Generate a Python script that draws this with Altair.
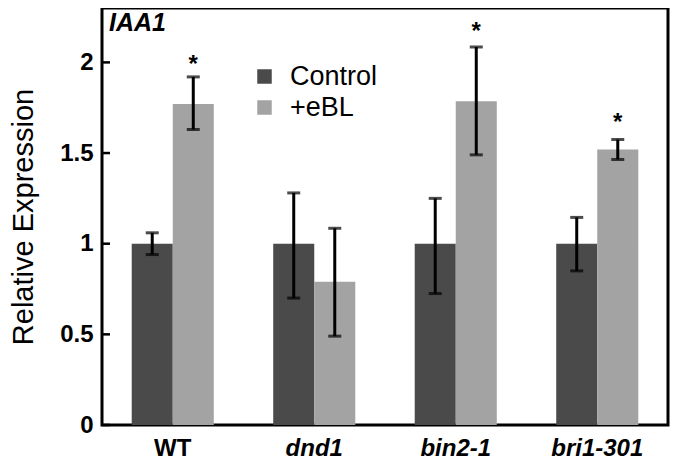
import altair as alt
import pandas as pd

genes = ["WT", "dnd1", "bin2-1", "bri1-301"]
treatments = ["Control", "+eBL"]
control_mean = [1.0, 1.0, 1.0, 1.0]
control_lo = [0.94, 0.70, 0.725, 0.85]
control_hi = [1.06, 1.28, 1.25, 1.145]
ebl_mean = [1.77, 0.79, 1.785, 1.52]
ebl_lo = [1.63, 0.49, 1.49, 1.465]
ebl_hi = [1.92, 1.085, 2.085, 1.575]
star_genes = ["WT", "bin2-1", "bri1-301"]
star_y = [2.02, 2.2, 1.7]
y_ticks = [0, 0.5, 1, 1.5, 2]

rows = []
for i, g in enumerate(genes):
    rows.append({"gene": g, "treatment": "Control", "mean": control_mean[i], "lo": control_lo[i], "hi": control_hi[i]})
    rows.append({"gene": g, "treatment": "+eBL", "mean": ebl_mean[i], "lo": ebl_lo[i], "hi": ebl_hi[i]})
df = pd.DataFrame(rows)
stars = pd.DataFrame({"gene": star_genes, "treatment": ["+eBL"] * len(star_genes), "y": star_y, "s": ["*"] * len(star_genes)})
ticks = pd.DataFrame({"v": y_ticks})

FONT = "Liberation Sans"
ydom = [0, 2.3]

x_enc = alt.X("gene:N", sort=genes,
              scale=alt.Scale(paddingInner=0.42, paddingOuter=0.21),
              axis=alt.Axis(title=None, ticks=False, domain=False, labelAngle=0,
                            labelFont=FONT, labelFontSize=24, labelFontWeight="bold",
                            labelColor="black", labelPadding=11,
                            labelFontStyle={"condition": {"test": "datum.value == 'WT'", "value": "normal"}, "value": "italic"}))
xo_enc = alt.XOffset("treatment:N", sort=treatments, scale=alt.Scale(paddingInner=0, paddingOuter=0))

base = alt.Chart(df)

bars = base.mark_bar().encode(
    x=x_enc,
    xOffset=xo_enc,
    y=alt.Y("mean:Q", scale=alt.Scale(domain=ydom, nice=False, zero=True),
            axis=alt.Axis(values=y_ticks, format="~g", ticks=False, domain=False, grid=False,
                          labelFont=FONT, labelFontSize=24, labelFontWeight="bold",
                          labelColor="black", labelPadding=9,
                          title="Relative Expression", titleFont=FONT, titleFontSize=29,
                          titleFontWeight="normal", titleColor="black", titlePadding=21)),
    color=alt.Color("treatment:N", sort=treatments,
                    scale=alt.Scale(domain=treatments, range=["#4a4a4a", "#a3a3a3"]),
                    legend=alt.Legend(title=None, orient="none", legendX=149, legendY=55,
                                      symbolType="square", symbolSize=210, symbolStrokeWidth=0,
                                      labelFont=FONT, labelFontSize=27, labelColor="black",
                                      labelOffset=12, rowPadding=3)),
)

rules = base.mark_rule(color="black", strokeWidth=3).encode(
    x=alt.X("gene:N", sort=genes), xOffset=xo_enc,
    y="lo:Q", y2="hi:Q")

caps_lo = base.mark_tick(color="black", thickness=3, size=13).encode(
    x=alt.X("gene:N", sort=genes), xOffset=xo_enc, y="lo:Q")
caps_hi = base.mark_tick(color="black", thickness=3, size=13).encode(
    x=alt.X("gene:N", sort=genes), xOffset=xo_enc, y="hi:Q")

star_layer = alt.Chart(stars).mark_text(font=FONT, fontSize=24, fontWeight="bold", color="black",
                                         baseline="middle", dy=6).encode(
    x=alt.X("gene:N", sort=genes), xOffset=alt.XOffset("treatment:N", sort=treatments),
    y="y:Q", text="s:N")

tick_layer = alt.Chart(ticks).mark_rule(color="black", strokeWidth=2.5).encode(
    y="v:Q", x=alt.value(0), x2=alt.value(8))

title_layer = alt.Chart(pd.DataFrame({"t": ["IAA1"]})).mark_text(
    font=FONT, fontSize=25, fontWeight="bold", fontStyle="italic", color="black",
    align="left", baseline="alphabetic").encode(
    x=alt.value(7), y=alt.value(23), text="t:N")

chart = alt.layer(bars, rules, caps_lo, caps_hi, star_layer, tick_layer, title_layer).resolve_scale(
    color="independent").properties(
    width=566, height=417,
    autosize=alt.AutoSizeParams(type="none"),
    padding={"left": 94, "top": 0, "right": 22, "bottom": 35},
    background="white",
).configure_view(stroke="black", strokeWidth=3)

chart.save("out.html", embed_options={"renderer": "svg", "actions": False})
